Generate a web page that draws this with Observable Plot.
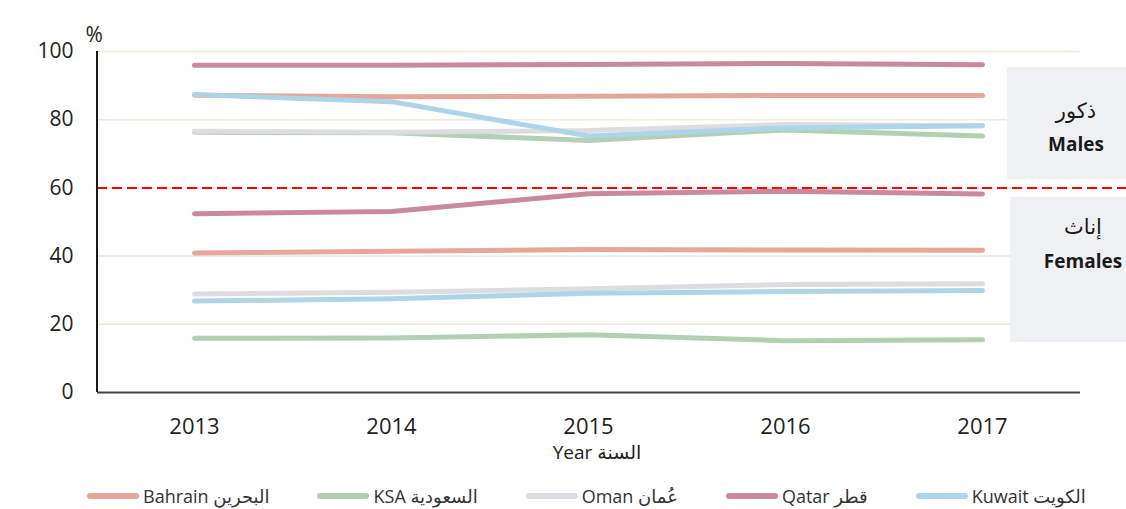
<!DOCTYPE html>
<html><head><meta charset="utf-8">
<script src="https://cdn.jsdelivr.net/npm/d3@7"></script>
<script src="https://cdn.jsdelivr.net/npm/@observablehq/plot@0.6"></script>
<style>
body{margin:0;background:#fff;font-family:"Open Sans","DejaVu Sans",sans-serif;}
#wrap{position:relative;width:1126px;height:509px;overflow:hidden;}
.box{position:absolute;background:#eff0f2;color:#1a1a1a;text-align:center;box-sizing:border-box;}
.box div{height:34px;line-height:34px;}
.ar{font-size:21px;}
.en{font-size:19px;font-weight:bold;}
#legend{position:absolute;left:87px;top:484px;height:24px;line-height:24px;display:flex;align-items:center;gap:48px;font-size:18px;color:#333;}
.item{display:flex;align-items:center;white-space:nowrap;}
.sw{display:inline-block;width:52px;height:6px;border-radius:3px;margin-right:4px;}
</style></head><body>
<div id="wrap">
<div id="chart"></div>
<div class="box" style="left:1007px;top:67px;width:138px;height:112px;padding-top:26px;"><div class="ar">ذكور</div><div class="en">Males</div></div>
<div class="box" style="left:1010px;top:197px;width:146px;height:145px;padding-top:12px;"><div class="ar" style="height:35px;line-height:35px">إناث</div><div class="en" style="height:35px;line-height:35px">Females</div></div>
<div id="legend"></div>
</div>
<script>
const years = [2013, 2014, 2015, 2016, 2017];
const countries = ["Bahrain", "KSA", "Oman", "Qatar", "Kuwait"];
const legendLabels = ["Bahrain البحرين", "KSA السعودية", "Oman عُمان", "Qatar قطر", "Kuwait الكويت"];
const colors = ["#e6a699", "#b3d0b5", "#dcdde0", "#c98b9b", "#add4e7"];

const bahrainMales   = [87.2, 86.7, 86.9, 87.1, 87.1];
const bahrainFemales = [40.9, 41.4, 41.9, 41.8, 41.7];
const ksaMales       = [76.3, 76.2, 73.9, 77.0, 75.2];
const ksaFemales     = [15.9, 16.0, 16.9, 15.2, 15.5];
const omanMales      = [76.6, 76.3, 76.8, 78.6, 78.2];
const omanFemales    = [28.9, 29.4, 30.4, 31.7, 31.9];
const qatarMales     = [96.0, 96.0, 96.2, 96.5, 96.1];
const qatarFemales   = [52.4, 53.1, 58.3, 59.0, 58.2];
const kuwaitMales    = [87.4, 85.3, 75.2, 77.6, 78.2];
const kuwaitFemales  = [26.8, 27.5, 29.1, 29.6, 29.9];

const threshold = 60;
const yTicks = [0, 20, 40, 60, 80, 100];

const series = {
  Bahrain: [bahrainMales, bahrainFemales],
  KSA: [ksaMales, ksaFemales],
  Oman: [omanMales, omanFemales],
  Qatar: [qatarMales, qatarFemales],
  Kuwait: [kuwaitMales, kuwaitFemales]
};
const rows = [];
for (const c of countries) {
  const [m, f] = series[c];
  years.forEach((y, i) => rows.push({country: c, sex: "M", key: c + "M", year: y, value: m[i]}));
  years.forEach((y, i) => rows.push({country: c, sex: "F", key: c + "F", year: y, value: f[i]}));
}

const leftLine = (index, scales, values, dims) => {
  const g = d3.create("svg:g");
  g.append("line")
    .attr("x1", dims.marginLeft).attr("x2", dims.marginLeft)
    .attr("y1", dims.marginTop).attr("y2", dims.height - dims.marginBottom)
    .attr("stroke", "#1a1a1a").attr("stroke-width", 2);
  return g.node();
};

const chart = Plot.plot({
  width: 1126,
  height: 470,
  marginLeft: 97,
  marginRight: 46,
  marginTop: 51,
  marginBottom: 78,
  style: {fontFamily: '"Open Sans","DejaVu Sans",sans-serif', background: "#fff"},
  x: {domain: [2013, 2017], insetLeft: 97, insetRight: 98},
  y: {domain: [0, 100]},
  color: {domain: countries, range: colors},
  marks: [
    Plot.ruleY(yTicks.filter(d => d > 0), {stroke: "#ebeadf", strokeWidth: 1.5}),
    Plot.ruleY([threshold], {stroke: "#ff0000", strokeWidth: 2, strokeDasharray: "10,5", insetRight: -46}),
    Plot.line(rows, {x: "year", y: "value", z: "key", stroke: "country", strokeWidth: 5, strokeLinecap: "round", strokeLinejoin: "round"}),
    Plot.ruleY([0], {stroke: "#444", strokeWidth: 2}),
    leftLine,
    Plot.axisY({ticks: yTicks, tickSize: 0, tickPadding: 24, fontSize: 21, label: null, color: "#222"}),
    Plot.axisX({ticks: years, tickFormat: d => String(d), tickSize: 0, tickPadding: 26, fontSize: 22, label: null, color: "#222"}),
    Plot.text(["%"], {frameAnchor: "top-left", dx: -12, dy: -24, textAnchor: "start", fontSize: 21, fill: "#222"}),
    Plot.text(["Year السنة"], {frameAnchor: "bottom", dx: 8, dy: 66, fontSize: 19, fill: "#222"})
  ]
});
document.getElementById("chart").appendChild(chart);

const legend = document.getElementById("legend");
countries.forEach((c, i) => {
  const it = document.createElement("div");
  it.className = "item";
  const sw = document.createElement("span");
  sw.className = "sw";
  sw.style.background = colors[i];
  const t = document.createElement("span");
  t.textContent = legendLabels[i];
  it.appendChild(sw); it.appendChild(t);
  legend.appendChild(it);
});
</script>
</body></html>
